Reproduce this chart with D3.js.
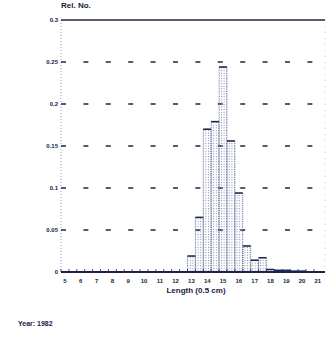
<!DOCTYPE html>
<html>
<head>
<meta charset="utf-8">
<script src="https://cdn.jsdelivr.net/npm/d3@7"></script>
<style>
  body { margin: 0; background: #fff; }
  text { font-family: "Liberation Sans", Arial, sans-serif; font-weight: bold; fill: #151c40; }
</style>
</head>
<body>
<div id="chart"></div>
<script>
// length class centres (cm) and relative numbers
const lengths = [13, 13.5, 14, 14.5, 15, 15.5, 16, 16.5, 17, 17.5, 18, 18.5, 19, 19.5, 20];
const relNo = [0.019, 0.065, 0.170, 0.179, 0.244, 0.156, 0.094, 0.031, 0.014, 0.017, 0.003, 0.002, 0.002, 0.001, 0.001];
const yTicks = [0, 0.05, 0.1, 0.15, 0.2, 0.25, 0.3];
const yTickLabels = ["0", "0.05", "0.1", "0.15", "0.2", "0.25", "0.3"];
const xTicks = d3.range(5, 22);

const width = 330, height = 344;
const ink = "#1b2450";

const svg = d3.select("#chart").append("svg")
  .attr("width", width)
  .attr("height", height);

const x = d3.scaleLinear().domain([4.75, 21.45]).range([61, 325]);
const y = d3.scaleLinear().domain([0, 0.3]).range([272, 20]);
const binW = x(5.5) - x(5);

// dotted fill for bars
const defs = svg.append("defs");
const pat = defs.append("pattern")
  .attr("id", "dots")
  .attr("patternUnits", "userSpaceOnUse")
  .attr("width", 2.6).attr("height", 2.6);
pat.append("rect").attr("width", 1).attr("height", 1).attr("fill", "#7f86a8");

// frame: faint left & right, solid top
svg.append("line")
  .attr("x1", x.range()[0]).attr("x2", x.range()[0])
  .attr("y1", y(0.3)).attr("y2", y(0))
  .attr("stroke", "#9aa0bb").attr("stroke-width", 1)
  .attr("stroke-dasharray", "1,2");
svg.append("line")
  .attr("x1", x.range()[1]).attr("x2", x.range()[1])
  .attr("y1", y(0.3)).attr("y2", y(0))
  .attr("stroke", "#c8cbd8").attr("stroke-width", 1)
  .attr("stroke-dasharray", "1,5");
svg.append("line")
  .attr("x1", x.range()[0]).attr("x2", x.range()[1])
  .attr("y1", y(0.3)).attr("y2", y(0.3))
  .attr("stroke", ink).attr("stroke-width", 1.4);

// dashed grid (first dash doubles as the tick)
svg.append("g")
  .selectAll("line")
  .data(yTicks.filter(d => d > 0 && d < 0.3))
  .join("line")
  .attr("x1", x.range()[0]).attr("x2", x.range()[1])
  .attr("y1", d => y(d)).attr("y2", d => y(d))
  .attr("stroke", ink).attr("stroke-width", 1.6)
  .attr("stroke-dasharray", "5,17.4");

// y labels
svg.append("g")
  .selectAll("text")
  .data(yTicks)
  .join("text")
  .attr("x", x.range()[0] - 3)
  .attr("y", d => y(d) + 2)
  .attr("text-anchor", "end")
  .style("font-size", "6px")
  .text((d, i) => yTickLabels[i]);

// bars
const bars = svg.append("g")
  .selectAll("g")
  .data(lengths)
  .join("g");

bars.append("rect")
  .attr("x", d => x(d) - binW / 2)
  .attr("y", (d, i) => y(relNo[i]))
  .attr("width", binW)
  .attr("height", (d, i) => y(0) - y(relNo[i]))
  .attr("fill", "url(#dots)")
  .attr("stroke", "#5a6290")
  .attr("stroke-width", 0.8)
  .attr("stroke-dasharray", "1,1");

bars.append("line")
  .attr("x1", d => x(d) - binW / 2)
  .attr("x2", d => x(d) + binW / 2)
  .attr("y1", (d, i) => y(relNo[i]))
  .attr("y2", (d, i) => y(relNo[i]))
  .attr("stroke", ink).attr("stroke-width", 1.5);

// x axis baseline with half-cm ticks
const xAxis = svg.append("g");
xAxis.append("line")
  .attr("x1", x.range()[0]).attr("x2", x.range()[1])
  .attr("y1", y(0)).attr("y2", y(0))
  .attr("stroke", ink).attr("stroke-width", 2);
xAxis.selectAll("line.tick")
  .data(d3.range(5, 21.5, 0.5))
  .join("line")
  .attr("class", "tick")
  .attr("x1", d => x(d) - binW / 2).attr("x2", d => x(d) - binW / 2)
  .attr("y1", y(0)).attr("y2", y(0) - 3)
  .attr("stroke", ink).attr("stroke-width", 0.8);
xAxis.selectAll("text")
  .data(xTicks)
  .join("text")
  .attr("x", d => x(d))
  .attr("y", 283)
  .attr("text-anchor", "middle")
  .style("font-size", "6px")
  .text(d => d);

// titles
svg.append("text")
  .attr("x", 61).attr("y", 8)
  .style("font-size", "8px")
  .text("Rel. No.");
svg.append("text")
  .attr("x", 196).attr("y", 293)
  .attr("text-anchor", "middle")
  .style("font-size", "8px")
  .text("Length (0.5 cm)");
svg.append("text")
  .attr("x", 18).attr("y", 326)
  .style("font-size", "7px")
  .text("Year: 1982");
</script>
</body>
</html>
